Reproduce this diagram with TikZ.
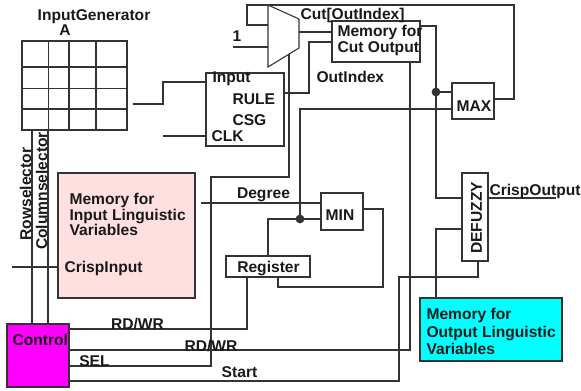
\documentclass[tikz,border=0pt]{standalone}
\usepackage{fontspec}
\setmainfont{Liberation Sans}
\definecolor{inpink}{RGB}{255,224,224}
\definecolor{outcyan}{RGB}{0,255,255}
\definecolor{ctlmag}{RGB}{255,0,255}
\begin{document}
\begin{tikzpicture}[x=0.5pt, y=-0.5pt, line width=0.55pt, color=black!80,
  blk/.style={draw, inner sep=0pt},
  lbl/.style={font=\bfseries\fontsize{7.8}{9}\selectfont, inner sep=0pt, text=black!90}]
  \useasboundingbox (0,0) rectangle (581,390);
  % 블록
  \node[blk, minimum width=52.5pt, minimum height=44.5pt] (G) at (74.5,85.5) {};
  \foreach \x in {48.5,69,96} \draw (\x,41) -- (\x,130);
  \foreach \y in {67,88.7,109} \draw (22,\y) -- (127,\y);
  \node[blk, minimum width=39pt, minimum height=36.5pt] (R) at (245,109.5) {};
  \node[blk, minimum width=44pt, minimum height=20.5pt] (CM) at (376,41.5) {};
  \node[blk, minimum width=21pt, minimum height=18pt] (MX) at (473,101) {};
  \node[blk, fill=inpink, minimum width=68.5pt, minimum height=62.5pt] (I) at (126.5,235.5) {};
  \node[blk, minimum width=21pt, minimum height=18.5pt] (MN) at (342,211.5) {};
  \node[blk, minimum width=42pt, minimum height=10.5pt] (Reg) at (268,266.5) {};
  \node[blk, minimum width=13pt, minimum height=44pt] (D) at (475,217) {};
  \node[blk, fill=outcyan, minimum width=71pt, minimum height=31.5pt] (O) at (491,329.5) {};
  \node[blk, fill=ctlmag, minimum width=31pt, minimum height=31.5pt] (C) at (38,355.5) {};
  % 멀티플렉서
  \coordinate (M1) at (268,5); \coordinate (M2) at (299,19); \coordinate (M3) at (299,48); \coordinate (M4) at (268,67);
  \coordinate (Min1) at (268,25); \coordinate (Min2) at (268,47); \coordinate (Mout) at (299,32); \coordinate (Msel) at (289,54);
  \draw (M1) -- (M2) -- (M3) -- (M4) -- cycle;
  % 자유 끝점, 분기점
  \coordinate (one) at (233,47); \coordinate (K) at (163,136);
  \coordinate (P) at (556,198); \coordinate (Q) at (12,267);
  \coordinate (J1) at (436,92); \coordinate (J2) at (300,219);
  % 입력 생성기
  \draw[shorten <=2.5pt] (G.east |- 0,104) -| (163,82) -- (R.west |- 0,82);
  \draw (K) -- (R.west |- K);
  \draw (G.south -| 32,0) -- (C.north -| 32,0);
  \draw (G.south -| 48,0) -- (C.north -| 48,0);
  \draw (Q) -- (I.west |- Q);
  % 규칙, 컷 메모리
  \draw (R.east |- 0,93) -| (309,42) -- (CM.west |- 0,42);
  \draw (Mout) -- (CM.west |- Mout);
  \draw (one) -- (Min2);
  \draw (MX.east |- 0,99) -| (514,5) -| (247,25) -- (Min1);
  \draw (CM.east |- 0,26) -| (436,198) -- (D.west |- 0,198);
  \draw (J1) -- (MX.west |- J1);
  % MIN, 레지스터
  \draw (MX.west |- 0,109) -| (J2);
  \draw (J2) -- (MN.west |- J2);
  \draw (J2) -| (Reg.north);
  \draw[shorten <=2.5pt] (I.east |- 0,203) -- (MN.west |- 0,203);
  \draw (MN.east |- 0,209) -| (383,287) -| (Reg.south -| 278,0);
  % 제어 신호
  \draw (C.east |- 0,329) -| (Reg.south -| 247,0);
  \draw (C.east |- 0,350) -| (CM.south -| 410,0);
  \draw (C.east |- 0,366) -| (211,177) -| (Msel);
  \draw (C.east |- 0,381) -| (399,277) -| (D.south -| 478,0);
  \draw (O.north -| 436,0) |- (D.west |- 0,229);
  \draw (D.east |- 0,198) -- (P);
  \fill (J1) circle (2.2pt);
  \fill (J2) circle (2.2pt);
  % 글자
  \node[lbl, anchor=base] (tGen) at (94,21) {InputGenerator};
  \node[lbl, anchor=base] (tA) at (65,36) {A};
  \node[lbl, anchor=base west] (tIn) at (212,83) {Input};
  \node[lbl, anchor=base west] (tRule) at (232,104) {RULE};
  \node[lbl, anchor=base west] (tCsg) at (232,125) {CSG};
  \node[lbl, anchor=base west] (tClk) at (211,141) {CLK};
  \node[lbl, anchor=base west] (tOI) at (316,83) {OutIndex};
  \node[lbl, anchor=base west] (tCut) at (300,20) {Cut[OutIndex]};
  \node[lbl, anchor=base] (t1) at (237,42) {1};
  \node[lbl, anchor=base west] (tCM1) at (337,37) {Memory for};
  \node[lbl, anchor=base west] (tCM2) at (337,53) {Cut Output};
  \node[lbl, anchor=base] (tMax) at (474,111) {MAX};
  \node[lbl, anchor=base] (tDeg) at (263.5,198) {Degree};
  \node[lbl, anchor=base] (tMin) at (340,220) {MIN};
  \node[lbl, anchor=base] (tReg) at (268.5,272) {Register};
  \node[lbl, rotate=90] (tDef) at (476.5,218) {DEFUZZY};
  \node[lbl, anchor=base west] (tCO) at (489,195) {CrispOutput};
  \node[lbl, anchor=base west] (tI1) at (69,204) {Memory for};
  \node[lbl, anchor=base west] (tI2) at (69,220) {Input Linguistic};
  \node[lbl, anchor=base west] (tI3) at (69,235) {Variables};
  \node[lbl, anchor=base west] (tCI) at (64,272) {CrispInput};
  \node[lbl, rotate=90, anchor=base] (tRow) at (31,194) {Rowselector};
  \node[lbl, rotate=90, anchor=base] (tCol) at (47,191) {Columnselector};
  \node[lbl, anchor=base west] (tCtl) at (12,345) {Control};
  \node[lbl, anchor=base] (tRW1) at (137.5,329) {RD/WR};
  \node[lbl, anchor=base] (tRW2) at (211,351) {RD/WR};
  \node[lbl, anchor=base] (tSel) at (94.5,366) {SEL};
  \node[lbl, anchor=base] (tStart) at (239.5,377) {Start};
  \node[lbl, anchor=base west] (tO1) at (426,319) {Memory for};
  \node[lbl, anchor=base west] (tO2) at (426,337) {Output Linguistic};
  \node[lbl, anchor=base west] (tO3) at (426,354) {Variables};
\end{tikzpicture}
\end{document}
